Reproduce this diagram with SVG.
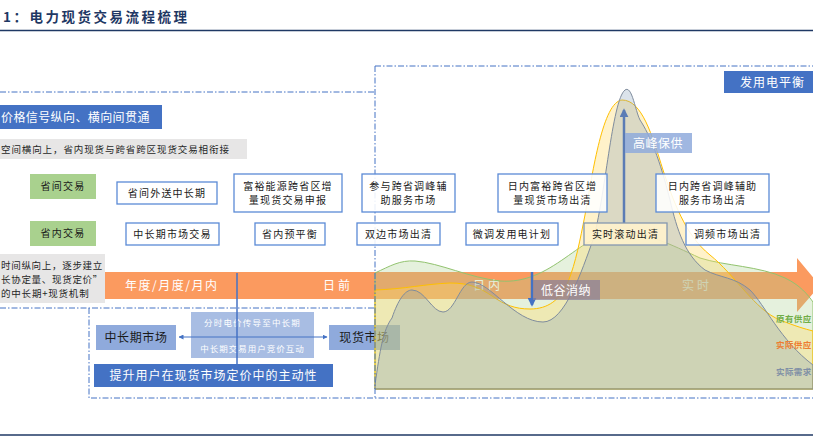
<svg xmlns="http://www.w3.org/2000/svg" width="813" height="438" viewBox="0 0 813 438">
<defs>
<style>
text{font-family:"Noto Sans CJK SC","Liberation Sans",sans-serif;}
.title{font-size:13.5px;font-weight:bold;fill:#1f3864;letter-spacing:2.5px;}
.wbox{fill:#ffffff;fill-opacity:0.88;stroke:#5b8ad6;stroke-width:1.3;}
.bt{font-size:10px;fill:#1a1a1a;letter-spacing:1.2px;text-anchor:middle;}
.green{fill:#a9d18e;}
.gray{fill:#e7e6e6;}
.gt{font-size:9.5px;fill:#262626;letter-spacing:0.8px;}
.blue{fill:#4472c4;}
.wt{fill:#ffffff;}
.band{font-size:12px;fill:#ffffff;letter-spacing:3px;}
.frame{fill:none;stroke:#4472c4;stroke-width:1;stroke-dasharray:6 2 1.5 2;}
.lb{fill:#8faadc;}
.lab{font-size:8.5px;font-weight:bold;letter-spacing:0.4px;}
</style>
<marker id="ah" viewBox="0 0 10 10" refX="9" refY="5" markerWidth="5" markerHeight="5" orient="auto-start-reverse" markerUnits="userSpaceOnUse"><path d="M0,0 L10,5 L0,10 Z" fill="#4472c4"/></marker>
<marker id="ahb" viewBox="0 0 10 10" refX="8" refY="5" markerWidth="9" markerHeight="9" orient="auto" markerUnits="userSpaceOnUse"><path d="M0,0 L10,5 L0,10 Z" fill="#5b7cb5"/></marker>
<marker id="ahd" viewBox="0 0 10 10" refX="8" refY="5" markerWidth="9" markerHeight="9" orient="auto" markerUnits="userSpaceOnUse"><path d="M0,0 L10,5 L0,10 Z" fill="#4472c4"/></marker>
</defs>
<rect width="813" height="438" fill="#ffffff"/>

<g id="title">
<text x="3" y="22" class="title">1：电力现货交易流程梳理</text>
<line x1="0" y1="30.5" x2="813" y2="30.5" stroke="#1f3864" stroke-width="1.5"/>
<line x1="0" y1="435" x2="813" y2="435" stroke="#1f3864" stroke-width="1.5"/>
</g>

<g id="timeline">
<polygon points="105,272 797,272 797,258 820,285.5 797,312 797,299 105,299" fill="#fb9a5f"/>
<text x="125" y="290" class="band" style="letter-spacing:1.5px">年度/月度/月内</text>
<text x="323" y="290" class="band">日前</text>
<text x="473" y="290" class="band">日内</text>
<text x="682" y="290" class="band">实时</text>
</g>

<g id="left-panel">
<g id="hdr-price"><rect x="0" y="105" width="162" height="24" class="blue"/><text x="1" y="121.5" style="font-size:12px;letter-spacing:0.4px" class="wt">价格信号纵向、横向间贯通</text></g>
<g id="note-space"><rect x="0" y="139" width="247" height="20" class="gray"/><text x="1" y="152.5" class="gt" style="letter-spacing:0.9px">空间横向上，省内现货与跨省跨区现货交易相衔接</text></g>
<g id="note-time"><rect x="0" y="254" width="105" height="49" class="gray"/>
<text x="1" y="268.5" class="gt" style="letter-spacing:0.7px">时间纵向上，逐步建立</text>
<text x="1" y="282.5" class="gt" style="letter-spacing:0.7px">长协定量、现货定价”</text>
<text x="1" y="296.5" class="gt">的中长期+现货机制</text></g>
<g id="inter"><rect x="30" y="174" width="66" height="25" class="green"/><text x="63" y="190" class="bt">省间交易</text></g>
<g id="intra"><rect x="30" y="221" width="66" height="25" class="green"/><text x="63" y="237" class="bt">省内交易</text></g>
</g>

<g id="lower-panel">
<g id="mlt-market"><rect x="96" y="325" width="80" height="25" class="lb"/><text x="136" y="342" style="font-size:12px;letter-spacing:0.6px;text-anchor:middle;fill:#1a1a1a">中长期市场</text></g>
<g id="spot-market"><rect x="329" y="325" width="71" height="25" class="lb"/><text x="364.5" y="342" style="font-size:12px;letter-spacing:0.6px;text-anchor:middle;fill:#1a1a1a">现货市场</text></g>
<g id="link-box"><rect x="191" y="312" width="123" height="46" fill="#a8bde3"/>
<text x="252.5" y="326" style="font-size:8.5px;letter-spacing:1.2px;text-anchor:middle" class="wt">分时电价传导至中长期</text>
<text x="252.5" y="352" style="font-size:8.5px;letter-spacing:1px;text-anchor:middle" class="wt">中长期交易用户竞价互动</text></g>
<g id="connectors-lower">
<line x1="179" y1="337" x2="327" y2="337" stroke="#4472c4" stroke-width="1" marker-start="url(#ah)" marker-end="url(#ah)"/>
<line x1="237" y1="273" x2="237" y2="365" stroke="#4472c4" stroke-width="1.5"/>
</g>
<g id="user-role"><rect x="94" y="364" width="239" height="23" class="blue"/><text x="213.5" y="380" style="font-size:12px;letter-spacing:1px;text-anchor:middle" class="wt">提升用户在现货市场定价中的主动性</text></g>
</g>

<g id="chart">
<path d="M375,273 C390,266 400,260 415,261 C440,263 470,278 500,281 C525,283 545,272 565,258 C585,244 600,232 620,232 C645,232 670,244 700,258 C725,266 760,266 785,278 C800,285 808,295 813,302 L813,389 L375,389 Z" fill="#a9d18e" fill-opacity="0.3" stroke="#92c36f" stroke-width="1"/>
<path d="M375,290 C405,289 425,284 450,283 C470,283 480,288 492,296 C505,305 515,309 530,309 C548,309 560,300 568,282 C576,262 580,240 585,215 C593,170 603,102 622,100 C642,100 652,135 663,170 C673,200 685,235 710,255 C735,275 755,310 780,320 C795,326 805,329 813,331 L813,389 L375,389 Z" fill="#ffd966" fill-opacity="0.35" stroke="#ffc000" stroke-width="1"/>
<path d="M375,385 C380,350 383,330 392,318 C398,300 405,290 412,290 C425,290 432,312 443,312 C455,312 460,282 472,282 C490,282 515,322 543,322 C565,322 582,270 593,240 C605,200 612,100 625,90 C632,85 635,110 640,120 C650,135 660,160 670,200 C677,230 685,255 705,270 C720,278 735,277 750,290 C765,305 780,340 813,365 L813,389 L375,389 Z" fill="#7f9ab8" fill-opacity="0.28" stroke="#7f8c9d" stroke-width="1"/>
</g>

<g id="frame">
<path class="frame" d="M0,92 H375 M375,66 H813 M375,66 V398 M0,308 H375 M89,308 V398 H813"/>
</g>

<g id="connectors">
<line x1="624" y1="223" x2="624" y2="110" stroke="#5b7cb5" stroke-width="2.5" marker-end="url(#ahb)"/>
<line x1="532" y1="272" x2="532" y2="305" stroke="#4472c4" stroke-width="2.5" marker-end="url(#ahd)"/>
</g>

<g id="peak"><rect x="625" y="133" width="67" height="20" fill="#8faadc" fill-opacity="0.85"/><text x="633" y="147.5" style="font-size:12px;letter-spacing:0.5px" class="wt">高峰保供</text></g>
<g id="valley"><rect x="533" y="280" width="67" height="20" fill="#8a7f99" fill-opacity="0.72"/><text x="541" y="294.5" style="font-size:12px;letter-spacing:0.5px" class="wt">低谷消纳</text></g>
<g id="balance"><rect x="724" y="71" width="92" height="22" class="blue"/><text x="740" y="86.5" style="font-size:12px;letter-spacing:1px" class="wt">发用电平衡</text></g>

<g id="n1"><rect x="117" y="182" width="100" height="22" class="wbox"/><text x="167" y="196.5" class="bt">省间外送中长期</text></g>
<g id="n2"><rect x="234" y="174" width="108" height="38" class="wbox"/><text x="288" y="189.5" class="bt">富裕能源跨省区增</text><text x="288" y="203.5" class="bt">量现货交易申报</text></g>
<g id="n3"><rect x="362" y="174" width="93" height="38" class="wbox"/><text x="408.5" y="189.5" class="bt">参与跨省调峰辅</text><text x="408.5" y="203.5" class="bt">助服务市场</text></g>
<g id="n4"><rect x="498" y="174" width="109" height="38" class="wbox"/><text x="552.5" y="189.5" class="bt">日内富裕跨省区增</text><text x="552.5" y="203.5" class="bt">量现货市场出清</text></g>
<g id="n5"><rect x="656" y="174" width="113" height="38" class="wbox"/><text x="712.5" y="189.5" class="bt">日内跨省调峰辅助</text><text x="712.5" y="203.5" class="bt">服务市场出清</text></g>
<g id="n6"><rect x="126" y="223" width="93" height="22" class="wbox"/><text x="172.5" y="237.5" class="bt">中长期市场交易</text></g>
<g id="n7"><rect x="255" y="223" width="70" height="22" class="wbox"/><text x="290" y="237.5" class="bt">省内预平衡</text></g>
<g id="n8"><rect x="357" y="223" width="83" height="22" class="wbox"/><text x="398.5" y="237.5" class="bt">双边市场出清</text></g>
<g id="n9"><rect x="466" y="223" width="92" height="22" class="wbox"/><text x="512" y="237.5" class="bt">微调发用电计划</text></g>
<g id="n10"><rect x="584" y="223" width="83" height="22" fill="#fff2cc" fill-opacity="0.92" stroke="#8497b0" stroke-width="1.3"/><text x="625.5" y="237.5" class="bt">实时滚动出清</text></g>
<g id="n11"><rect x="686" y="223" width="83" height="22" class="wbox"/><text x="727.5" y="237.5" class="bt">调频市场出清</text></g>

<g id="legend">
<text x="776" y="322" class="lab" fill="#70ad47">原有供应</text>
<text x="776" y="348" class="lab" fill="#ed7d31">实际供应</text>
<text x="776" y="375" class="lab" fill="#7f8fa6">实际需求</text>
</g>
</svg>
